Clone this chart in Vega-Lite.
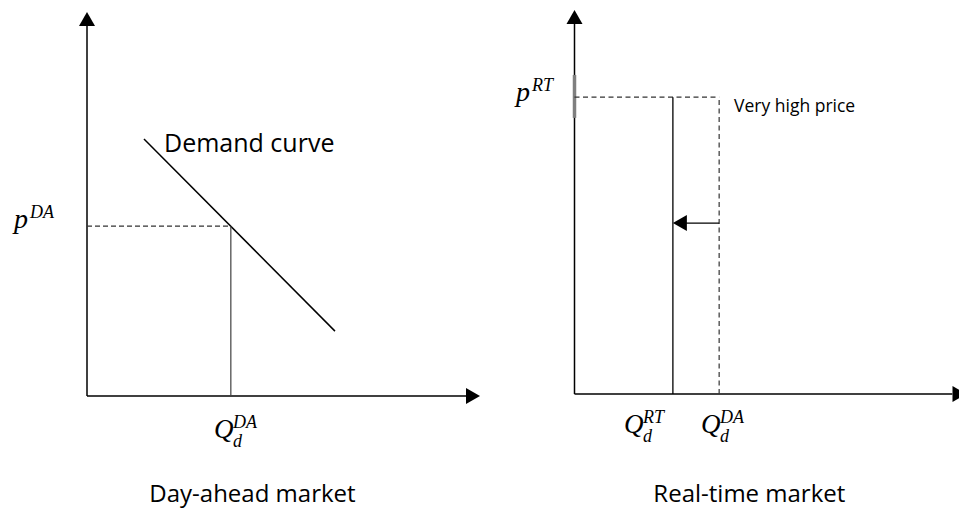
{
  "$schema": "https://vega.github.io/schema/vega-lite/v6.json",
  "background": "white",
  "padding": {"left": 13, "top": 10, "right": 0, "bottom": 0},
  "bounds": "flush",
  "spacing": 94.5,
  "config": {"view": {"stroke": null}},
  "hconcat": [
    {
      "width": 393,
      "height": 386,
      "layer": [
        {
          "data": {"values": [{"x": 0, "y": 0, "x2": 0, "y2": 96}, {"x": 0, "y": 0, "x2": 97, "y2": 0}]},
          "mark": {"type": "rule", "color": "black", "strokeWidth": 1.5},
          "encoding": {
            "x": {"field": "x", "type": "quantitative", "scale": {"domain": [0, 100], "nice": false, "zero": false}, "axis": null},
            "y": {"field": "y", "type": "quantitative", "scale": {"domain": [0, 100], "nice": false, "zero": false}, "axis": null},
            "x2": {"field": "x2"},
            "y2": {"field": "y2"}
          }
        },
        {
          "data": {"values": [{"x": 0, "y": 99.5, "dir": "up"}, {"x": 100, "y": 0, "dir": "right"}]},
          "mark": {"type": "point", "filled": true, "color": "black", "opacity": 1, "size": 256, "strokeWidth": 0},
          "encoding": {
            "x": {"field": "x", "type": "quantitative"},
            "y": {"field": "y", "type": "quantitative"},
            "shape": {"field": "dir", "type": "nominal", "legend": null,
              "scale": {"domain": ["up", "right", "left"], "range": ["M0,0L1,1.75L-1,1.75Z", "M0,0L-1.75,-1L-1.75,1Z", "M0,0L1.75,-1L1.75,1Z"]}}
          }
        },
        {
          "data": {"values": [{"x": 14.5, "y": 66.6, "x2": 63.1, "y2": 16.8}]},
          "mark": {"type": "rule", "color": "black", "strokeWidth": 1.5},
          "encoding": {
            "x": {"field": "x", "type": "quantitative"},
            "y": {"field": "y", "type": "quantitative"},
            "x2": {"field": "x2"},
            "y2": {"field": "y2"}
          }
        },
        {
          "data": {"values": [{"x": 0, "y": 44, "x2": 36.6, "y2": 44}]},
          "mark": {"type": "rule", "color": "#333333", "strokeWidth": 1.2, "strokeDash": [5, 3]},
          "encoding": {
            "x": {"field": "x", "type": "quantitative"},
            "y": {"field": "y", "type": "quantitative"},
            "x2": {"field": "x2"},
            "y2": {"field": "y2"}
          }
        },
        {
          "data": {"values": [{"x": 36.6, "y": 0, "x2": 36.6, "y2": 44}]},
          "mark": {"type": "rule", "color": "#404040", "strokeWidth": 1.2},
          "encoding": {
            "x": {"field": "x", "type": "quantitative"},
            "y": {"field": "y", "type": "quantitative"},
            "x2": {"field": "x2"},
            "y2": {"field": "y2"}
          }
        },
        {
          "data": {"values": [{"x": 19.6, "y": 63.3, "label": "Demand curve"}]},
          "mark": {"type": "text", "align": "left", "baseline": "alphabetic", "font": "Open Sans", "fontSize": 25, "color": "black"},
          "encoding": {
            "x": {"field": "x", "type": "quantitative"},
            "y": {"field": "y", "type": "quantitative"},
            "text": {"field": "label"}
          }
        },
        {
          "data": {"values": [{"x": 42.1, "y": -27.5, "label": "Day-ahead market"}]},
          "mark": {"type": "text", "align": "center", "baseline": "alphabetic", "font": "Open Sans", "fontSize": 24, "color": "black"},
          "encoding": {
            "x": {"field": "x", "type": "quantitative"},
            "y": {"field": "y", "type": "quantitative"},
            "text": {"field": "label"}
          }
        },
        {
          "data": {"values": [{"x": -18.6, "y": 43.6, "main": "p", "sup": "DA"}]},
          "layer": [
            {
              "mark": {"type": "text", "align": "left", "baseline": "alphabetic", "font": "Liberation Serif", "fontStyle": "italic", "fontSize": 28, "color": "black"},
              "encoding": {
                "x": {"field": "x", "type": "quantitative"},
                "y": {"field": "y", "type": "quantitative"},
                "text": {"field": "main"}
              }
            },
            {
              "mark": {"type": "text", "align": "left", "baseline": "alphabetic", "font": "Liberation Serif", "fontStyle": "italic", "fontSize": 18, "color": "black", "dx": 16, "dy": -10},
              "encoding": {
                "x": {"field": "x", "type": "quantitative"},
                "y": {"field": "y", "type": "quantitative"},
                "text": {"field": "sup"}
              }
            }
          ]
        },
        {
          "data": {"values": [{"x": 32.3, "y": -10.9, "main": "Q", "sup": "DA", "sub": "d"}]},
          "layer": [
            {
              "mark": {"type": "text", "align": "left", "baseline": "alphabetic", "font": "Liberation Serif", "fontStyle": "italic", "fontSize": 27, "color": "black"},
              "encoding": {
                "x": {"field": "x", "type": "quantitative"},
                "y": {"field": "y", "type": "quantitative"},
                "text": {"field": "main"}
              }
            },
            {
              "mark": {"type": "text", "align": "left", "baseline": "alphabetic", "font": "Liberation Serif", "fontStyle": "italic", "fontSize": 18, "color": "black", "dx": 19, "dy": -10},
              "encoding": {
                "x": {"field": "x", "type": "quantitative"},
                "y": {"field": "y", "type": "quantitative"},
                "text": {"field": "sup"}
              }
            },
            {
              "mark": {"type": "text", "align": "left", "baseline": "alphabetic", "font": "Liberation Serif", "fontStyle": "italic", "fontSize": 18, "color": "black", "dx": 19, "dy": 9},
              "encoding": {
                "x": {"field": "x", "type": "quantitative"},
                "y": {"field": "y", "type": "quantitative"},
                "text": {"field": "sub"}
              }
            }
          ]
        }
      ]
    },
    {
      "width": 392,
      "height": 384,
      "layer": [
        {
          "data": {"values": [{"x": 0, "y": 0, "x2": 0, "y2": 96.4}, {"x": 0, "y": 0, "x2": 96.4, "y2": 0}]},
          "mark": {"type": "rule", "color": "black", "strokeWidth": 1.5},
          "encoding": {
            "x": {"field": "x", "type": "quantitative", "scale": {"domain": [0, 100], "nice": false, "zero": false}, "axis": null},
            "y": {"field": "y", "type": "quantitative", "scale": {"domain": [0, 100], "nice": false, "zero": false}, "axis": null},
            "x2": {"field": "x2"},
            "y2": {"field": "y2"}
          }
        },
        {
          "data": {"values": [{"x": 0, "y": 71.9, "x2": 0, "y2": 83.1}]},
          "mark": {"type": "rule", "color": "#7f7f7f", "strokeWidth": 3.5},
          "encoding": {
            "x": {"field": "x", "type": "quantitative"},
            "y": {"field": "y", "type": "quantitative"},
            "x2": {"field": "x2"},
            "y2": {"field": "y2"}
          }
        },
        {
          "data": {"values": [{"x": 0, "y": 77.3, "x2": 36.9, "y2": 77.3}, {"x": 36.9, "y": 0, "x2": 36.9, "y2": 77.3}]},
          "mark": {"type": "rule", "color": "#333333", "strokeWidth": 1.2, "strokeDash": [5, 3.5]},
          "encoding": {
            "x": {"field": "x", "type": "quantitative"},
            "y": {"field": "y", "type": "quantitative"},
            "x2": {"field": "x2"},
            "y2": {"field": "y2"}
          }
        },
        {
          "data": {"values": [{"x": 25.1, "y": 0, "x2": 25.1, "y2": 77.3}, {"x": 36.9, "y": 44.5, "x2": 27, "y2": 44.5}]},
          "mark": {"type": "rule", "color": "black", "strokeWidth": 1.3},
          "encoding": {
            "x": {"field": "x", "type": "quantitative"},
            "y": {"field": "y", "type": "quantitative"},
            "x2": {"field": "x2"},
            "y2": {"field": "y2"}
          }
        },
        {
          "data": {"values": [{"x": 0, "y": 100, "dir": "up"}, {"x": 100, "y": 0, "dir": "right"}, {"x": 25.1, "y": 44.5, "dir": "left"}]},
          "mark": {"type": "point", "filled": true, "color": "black", "opacity": 1, "size": 256, "strokeWidth": 0},
          "encoding": {
            "x": {"field": "x", "type": "quantitative"},
            "y": {"field": "y", "type": "quantitative"},
            "shape": {"field": "dir", "type": "nominal", "legend": null,
              "scale": {"domain": ["up", "right", "left"], "range": ["M0,0L1,1.75L-1,1.75Z", "M0,0L-1.75,-1L-1.75,1Z", "M0,0L1.75,-1L1.75,1Z"]}}
          }
        },
        {
          "data": {"values": [{"x": 40.7, "y": 73.4, "label": "Very high price"}]},
          "mark": {"type": "text", "align": "left", "baseline": "alphabetic", "font": "Open Sans", "fontSize": 17.5, "color": "black"},
          "encoding": {
            "x": {"field": "x", "type": "quantitative"},
            "y": {"field": "y", "type": "quantitative"},
            "text": {"field": "label"}
          }
        },
        {
          "data": {"values": [{"x": 44.6, "y": -28.1, "label": "Real-time market"}]},
          "mark": {"type": "text", "align": "center", "baseline": "alphabetic", "font": "Open Sans", "fontSize": 24, "color": "black"},
          "encoding": {
            "x": {"field": "x", "type": "quantitative"},
            "y": {"field": "y", "type": "quantitative"},
            "text": {"field": "label"}
          }
        },
        {
          "data": {"values": [{"x": -14.9, "y": 76.3, "main": "p", "sup": "RT"}]},
          "layer": [
            {
              "mark": {"type": "text", "align": "left", "baseline": "alphabetic", "font": "Liberation Serif", "fontStyle": "italic", "fontSize": 28, "color": "black"},
              "encoding": {
                "x": {"field": "x", "type": "quantitative"},
                "y": {"field": "y", "type": "quantitative"},
                "text": {"field": "main"}
              }
            },
            {
              "mark": {"type": "text", "align": "left", "baseline": "alphabetic", "font": "Liberation Serif", "fontStyle": "italic", "fontSize": 18, "color": "black", "dx": 16, "dy": -10},
              "encoding": {
                "x": {"field": "x", "type": "quantitative"},
                "y": {"field": "y", "type": "quantitative"},
                "text": {"field": "sup"}
              }
            }
          ]
        },
        {
          "data": {"values": [
            {"x": 12.6, "y": -10.2, "main": "Q", "sup": "RT", "sub": "d"},
            {"x": 32.3, "y": -10.2, "main": "Q", "sup": "DA", "sub": "d"}
          ]},
          "layer": [
            {
              "mark": {"type": "text", "align": "left", "baseline": "alphabetic", "font": "Liberation Serif", "fontStyle": "italic", "fontSize": 27, "color": "black"},
              "encoding": {
                "x": {"field": "x", "type": "quantitative"},
                "y": {"field": "y", "type": "quantitative"},
                "text": {"field": "main"}
              }
            },
            {
              "mark": {"type": "text", "align": "left", "baseline": "alphabetic", "font": "Liberation Serif", "fontStyle": "italic", "fontSize": 18, "color": "black", "dx": 19, "dy": -10},
              "encoding": {
                "x": {"field": "x", "type": "quantitative"},
                "y": {"field": "y", "type": "quantitative"},
                "text": {"field": "sup"}
              }
            },
            {
              "mark": {"type": "text", "align": "left", "baseline": "alphabetic", "font": "Liberation Serif", "fontStyle": "italic", "fontSize": 18, "color": "black", "dx": 19, "dy": 9},
              "encoding": {
                "x": {"field": "x", "type": "quantitative"},
                "y": {"field": "y", "type": "quantitative"},
                "text": {"field": "sub"}
              }
            }
          ]
        }
      ]
    }
  ]
}
